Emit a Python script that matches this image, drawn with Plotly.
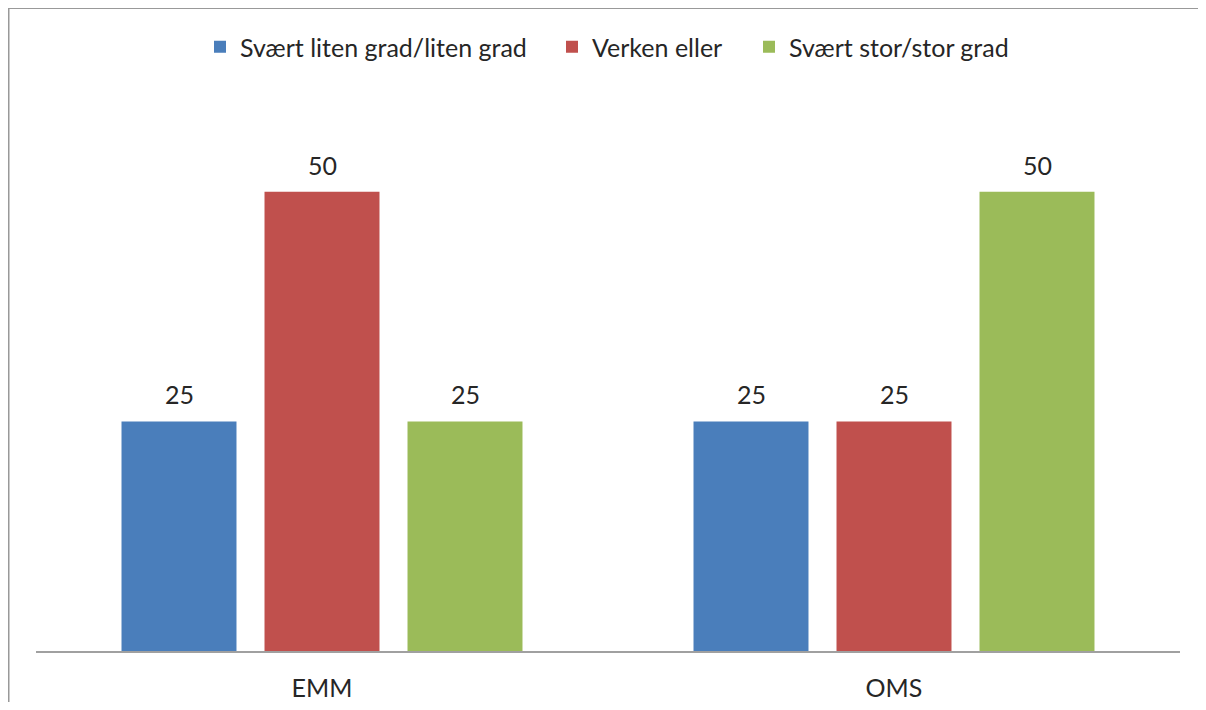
import plotly.graph_objects as go

categories = ["EMM", "OMS"]
series_names = ["Svært liten grad/liten grad", "Verken eller", "Svært stor/stor grad"]
values_low = [25, 25]
values_mid = [50, 25]
values_high = [25, 50]
colors = ["#4A7EBB", "#C0504D", "#9BBB59"]

font_family = "Lato, 'Open Sans', sans-serif"
text_color = "#262626"
FS = 25

W, H = 1198, 694
L, R, T, B = 28, 25.5, 92, 51
pw = W - L - R
ph = H - T - B

legend_ids = ["legend", "legend2", "legend3"]
legend_left_px = [192, 544, 741]  # figure px of each legend item start

fig = go.Figure()
annotations = []
offsets = [-143, 0, 143]
for name, vals, col, off, lid in zip(series_names, [values_low, values_mid, values_high],
                                     colors, offsets, legend_ids):
    fig.add_trace(go.Bar(
        x=categories, y=vals, name=name, legend=lid, showlegend=True,
        marker=dict(color=col, line=dict(width=0)),
    ))
    for c, v in zip(categories, vals):
        annotations.append(dict(x=c, y=v, xref="x", yref="y", text=str(v), showarrow=False,
                                xshift=off, yshift=27, yanchor="middle",
                                font=dict(size=FS, color=text_color, family=font_family)))

legend_common = dict(orientation="h", xref="container", yref="container", xanchor="left",
                     y=1 - 39 / H, yanchor="middle", bgcolor="rgba(0,0,0,0)",
                     font=dict(size=FS, color=text_color, family=font_family))

x_left = (0.5 - L) / pw
y_top = (ph + T) / ph
border = dict(color="#999999", width=2)

fig.update_layout(
    width=W, height=H,
    showlegend=True,
    margin=dict(l=L, r=R, t=T, b=B, autoexpand=False),
    paper_bgcolor="white", plot_bgcolor="white",
    barmode="group", bargap=0.25, bargroupgap=0.196,
    font=dict(family=font_family, size=FS, color=text_color),
    legend=dict(x=legend_left_px[0] / W, **legend_common),
    legend2=dict(x=legend_left_px[1] / W, **legend_common),
    legend3=dict(x=legend_left_px[2] / W, **legend_common),
    xaxis=dict(showline=True, linecolor="#A0A0A0", linewidth=2, ticks="",
               tickfont=dict(size=FS, color=text_color), showgrid=False, zeroline=False,
               ticklabelstandoff=14),
    yaxis=dict(range=[0, 60], visible=False, showgrid=False, zeroline=False),
    annotations=annotations,
    shapes=[
        dict(type="line", xref="paper", yref="paper", x0=x_left, x1=1.1, y0=y_top, y1=y_top,
             line=border, layer="below"),
        dict(type="line", xref="paper", yref="paper", x0=x_left, x1=x_left, y0=-0.2, y1=y_top,
             line=border, layer="below"),
    ],
)

fig.write_html("out.html")
